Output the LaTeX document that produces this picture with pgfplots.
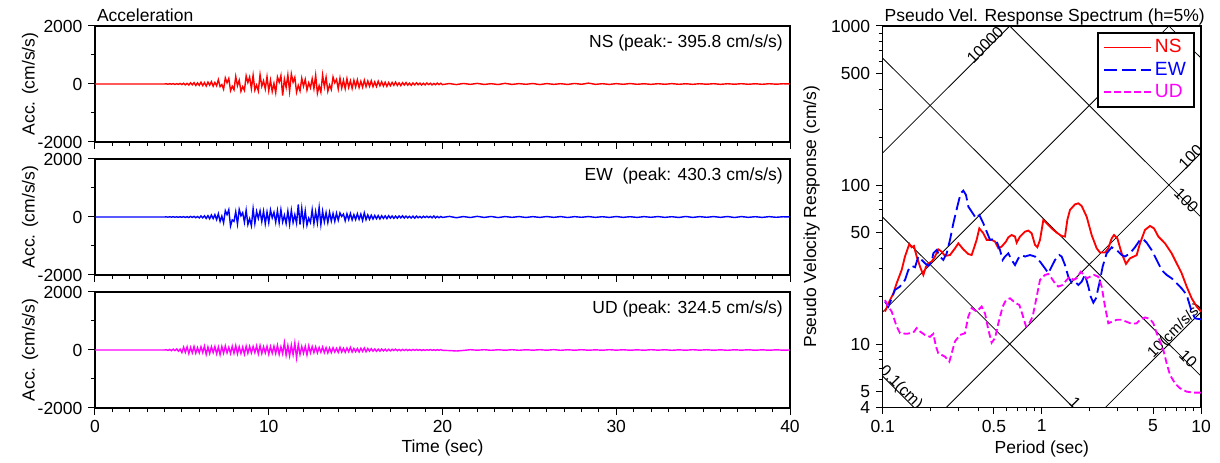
\documentclass[border=0pt]{standalone}
\usepackage{fontspec}
\setmainfont{Liberation Sans}
\usepackage{pgfplots}
\pgfplotsset{compat=1.18}
\usepackage{pgfplotstable}
\definecolor{UDmag}{RGB}{255,0,255}
\definecolor{NSred}{RGB}{255,0,0}

\pgfplotstableread{
t ns ew ud
0.0 0 0 0
4.0 0 0 0
4.1 5 3 10
4.2 -8 -4 -15
4.3 10 5 20
4.4 -6 -3 -25
4.5 12 6 30
4.6 -15 -5 -20
4.7 10 4 35
4.8 -12 -7 -40
4.9 18 8 30
5.0 -20 -10 -90
5.1 25 12 100
5.2 -30 -15 -80
5.3 22 10 110
5.4 -35 -18 -120
5.5 40 20 90
5.6 -28 -15 -100
5.7 45 22 120
5.8 -50 -25 -110
5.9 38 18 80
6.0 -45 -30 -100
6.1 60 35 110
6.2 -55 -28 -90
6.3 48 40 130
6.4 -70 -50 -150
6.5 65 45 100
6.6 -40 -60 -120
6.7 80 70 110
6.8 -75 -55 -90
6.9 55 80 120
7.0 -60 -90 -130
7.1 150 110 100
7.2 -90 -150 -160
7.3 -20 30 120
7.4 -180 -200 -110
7.5 210 220 140
7.6 40 80 -100
7.7 190 250 90
7.8 -230 -310 -120
7.9 -80 -100 130
8.0 -200 -150 -110
8.1 260 180 150
8.2 -60 -240 -130
8.3 130 260 110
8.4 -250 40 -120
8.5 -90 150 100
8.6 -220 -180 -140
8.7 280 230 130
8.8 50 -260 -110
8.9 240 -60 120
9.0 -160 -300 -100
9.1 300 280 120
9.2 -210 -220 -90
9.3 -40 190 140
9.4 -240 -50 -130
9.5 320 210 150
9.6 -80 -160 -120
9.7 110 200 110
9.8 -170 -230 -100
9.9 250 170 130
10.0 -230 -190 -140
10.1 130 240 120
10.2 -260 -30 -110
10.3 20 160 130
10.4 -300 -180 -120
10.5 240 220 160
10.6 60 -200 -150
10.7 290 250 110
10.8 -396 -170 -130
10.9 170 60 250
11.0 -120 -220 -180
11.1 310 200 150
11.2 -250 -250 -200
11.3 350 230 170
11.4 60 -190 -160
11.5 230 80 240
11.6 -280 -210 -260
11.7 -50 430 190
11.8 -240 -260 -150
11.9 200 300 120
12.0 -80 -240 -110
12.1 160 210 130
12.2 -210 -280 -170
12.3 40 -40 140
12.4 -130 -190 -100
12.5 180 250 120
12.6 -160 -230 -90
12.7 300 180 110
12.8 -320 -200 -100
12.9 -60 330 90
13.0 -280 -260 -80
13.1 310 200 100
13.2 -100 -170 -90
13.3 230 150 80
13.4 -250 -190 -100
13.5 -30 160 70
13.6 -190 -140 -90
13.7 240 120 80
13.8 40 -150 -70
13.9 160 130 60
14.0 -170 -110 -80
14.1 200 140 90
14.2 -140 20 -70
14.3 130 100 60
14.4 -160 -130 -80
14.5 180 110 70
14.6 -120 -90 -60
14.7 110 120 90
14.8 -150 -100 -70
14.9 130 80 50
15.0 -100 -90 -60
15.1 140 110 50
15.2 -120 -80 -70
15.3 90 100 60
15.4 -110 -120 -50
15.5 130 140 70
15.6 -90 -90 -60
15.7 100 70 50
15.8 -80 -80 -40
15.9 110 60 45
16.0 -90 -70 -40
16.1 70 55 35
16.2 -85 -60 -45
16.3 95 50 30
16.4 -60 -65 -40
16.5 75 45 35
16.6 -70 -50 -30
16.7 60 40 30
16.8 -80 -55 -35
16.9 50 45 25
17.0 -60 -40 -30
17.1 55 35 25
17.2 -45 -45 -20
17.3 65 30 30
17.4 -50 -40 -25
17.5 40 35 20
17.6 -55 -30 -25
17.7 45 40 20
17.8 -35 -35 -18
17.9 50 30 22
18.0 -40 -30 -20
18.1 30 25 15
18.2 -45 -35 -18
18.3 35 28 20
18.4 -30 -40 -15
18.5 40 30 18
18.6 -25 -25 -12
18.7 30 20 15
18.8 -35 -30 -18
18.9 25 25 12
19.0 -30 -20 -15
19.1 35 25 12
19.2 -20 -18 -10
19.3 25 22 15
19.4 -30 -28 -12
19.5 20 35 10
19.6 -25 -30 -14
19.7 30 20 12
19.8 -20 -25 -10
19.9 25 18 12
20.0 -20 -15 -10
20.4 15 20 -20
20.8 -20 -25 -35
21.2 18 15 -15
21.6 -12 -18 10
22.0 20 22 -8
22.4 -15 -15 10
22.8 10 18 -10
23.2 -18 -20 8
23.6 22 15 -8
24.0 -14 -12 10
24.4 12 14 -10
24.8 -10 -16 8
25.2 16 12 -6
25.6 -20 -14 10
26.0 14 16 -8
26.4 -12 -12 12
26.8 10 14 -10
27.2 -15 -18 8
27.6 18 12 -8
28.0 -10 -10 10
28.4 30 14 -8
28.8 -12 -12 6
29.2 10 10 -8
29.6 -14 -14 10
30.0 12 16 -6
30.4 -10 -12 8
30.8 15 10 -8
31.2 -10 -14 6
31.6 8 12 -8
32.0 -12 -10 10
32.4 10 14 -6
32.8 -9 -12 8
33.2 12 10 -10
33.6 -10 -16 6
34.0 8 18 -8
34.4 -11 -14 10
34.8 9 12 -6
35.2 -8 -10 8
35.6 10 14 -8
36.0 -12 -12 6
36.4 9 16 -10
36.8 -8 -18 8
37.2 10 14 -6
37.6 -9 -12 8
38.0 8 10 -8
38.4 -10 -14 6
38.8 9 12 -8
39.2 -7 -10 6
39.6 8 8 -6
40.0 0 0 0
}\acctable

\pgfplotsset{
  /pgf/number format/assume math mode=true,
  every axis title/.style={at={(axis description cs:0,1)}, anchor=base west, inner sep=1pt, yshift=2.5pt},
  accstyle/.style={
    scale only axis, width=417pt, height=69.6pt, anchor=south west,
    xmin=0, xmax=40, ymin=-2000, ymax=2000,
    xtick={0,10,20,30,40}, minor x tick num=9,
    ytick={-2000,0,2000}, yticklabels={-2000,0,2000}, minor ytick={-1000,1000},
    scaled y ticks=false,
    tick align=outside, tick pos=left,
    major tick length=4pt, minor tick length=2.5pt,
    every tick/.style={black, line width=0.6pt},
    axis line style={line width=0.8pt},
    ylabel={Acc. (cm/s/s)},
    y label style={at={(axis description cs:-0.0935,0.5)}, anchor=center},
  },
}

\begin{document}
\begin{tikzpicture}[font=\fontsize{10.5}{12.6}\selectfont]
\useasboundingbox (0,0) rectangle (732pt,277.8pt);

\begin{axis}[accstyle, at={(57pt,192.6pt)}, xticklabels={},
  title={Acceleration}]
\addplot[NSred, line width=0.85pt] table[x=t, y=ns] {\acctable};
\node[anchor=north east, inner sep=0pt] at (axis description cs:0.99,0.925) {NS (peak:- 395.8 cm/s/s)};
\end{axis}

\begin{axis}[accstyle, at={(57pt,112.8pt)}, xticklabels={}]
\addplot[blue, line width=0.85pt] table[x=t, y=ew] {\acctable};
\node[anchor=north east, inner sep=0pt] at (axis description cs:0.99,0.925) {EW\ \ (peak: 430.3 cm/s/s)};
\end{axis}

\begin{axis}[accstyle, at={(57pt,33pt)},
  xlabel={Time (sec)},
  x label style={at={(axis description cs:0.5,-0.345)}, anchor=center}]
\addplot[UDmag, line width=0.85pt] table[x=t, y=ud] {\acctable};
\node[anchor=north east, inner sep=0pt] at (axis description cs:0.99,0.925) {UD (peak: 324.5 cm/s/s)};
\end{axis}

\begin{axis}[xmode=log, ymode=log, scale only axis, width=191pt, height=228.8pt,
  at={(529.6pt,33.4pt)}, anchor=south west,
  xmin=0.1, xmax=10, ymin=4, ymax=1000,
  xtick={0.1,0.5,1,5,10}, xticklabels={0.1,0.5,1,5,10},
  minor xtick={0.2,0.3,0.4,0.6,0.7,0.8,0.9,2,3,4,6,7,8,9},
  ytick={4,5,10,50,100,500,1000}, yticklabels={4,5,10,50,100,500,1000},
  minor ytick={6,7,8,9,20,30,40,60,70,80,90,200,300,400,600,700,800,900},
  tick align=outside, tick pos=left,
  major tick length=4pt, minor tick length=2.5pt,
  every tick/.style={black, line width=0.6pt},
  axis line style={line width=0.8pt},
  xlabel={Period (sec)},
  x label style={at={(axis description cs:0.5,-0.109)}, anchor=center},
  ylabel={Pseudo Velocity Response (cm/s)},
  y label style={at={(axis description cs:-0.223,0.5)}, anchor=center},
  title={Pseudo Vel. Response Spectrum (h=5\%)},
  legend style={at={(axis description cs:0.981,0.984)}, anchor=north east,
    draw=black, line width=0.9pt, fill=white},
  legend cell align=left,
]
% displacement lines (cm)
\addplot[black, line width=0.5pt, forget plot] coordinates {(0.1,6.2832) (10,0.062832)};
\addplot[black, line width=0.5pt, forget plot] coordinates {(0.1,62.832) (10,0.62832)};
\addplot[black, line width=0.5pt, forget plot] coordinates {(0.1,628.32) (10,6.2832)};
\addplot[black, line width=0.5pt, forget plot] coordinates {(0.1,6283.2) (10,62.832)};
\addplot[black, line width=0.5pt, forget plot] coordinates {(0.1,62832) (10,628.32)};
% acceleration lines (cm/s/s)
\addplot[black, line width=0.5pt, forget plot] coordinates {(0.1,0.15915) (10,15.915)};
\addplot[black, line width=0.5pt, forget plot] coordinates {(0.1,1.5915) (10,159.15)};
\addplot[black, line width=0.5pt, forget plot] coordinates {(0.1,15.915) (10,1591.5)};
\addplot[black, line width=0.5pt, forget plot] coordinates {(0.1,159.15) (10,15915)};

\node[rotate=45, font=\fontsize{9.5}{11}\selectfont] at (axis cs:0.44,760) {10000};
\node[rotate=45, font=\fontsize{9.5}{11}\selectfont] at (axis cs:8.6,150) {100};
\node[rotate=45, font=\fontsize{9}{11}\selectfont] at (axis cs:6.9,12.1) {10(cm/s/s)};
\node[rotate=-45, font=\fontsize{9.5}{11}\selectfont] at (axis cs:8.1,80) {100};
\node[rotate=-45, font=\fontsize{9.5}{11}\selectfont] at (axis cs:8.3,8.1) {10};
\node[rotate=-45, font=\fontsize{9.5}{11}\selectfont] at (axis cs:1.62,4.3) {1};
\node[rotate=-45, font=\fontsize{9.5}{11}\selectfont] at (axis cs:0.13,5.3) {0.1(cm)};

\addplot[NSred, line width=1.1pt, forget plot] coordinates {
(0.1034,16.0) (0.1112,18.9) (0.1167,20.8) (0.1224,24.1) (0.1316,29.2) (0.1381,35.5)
(0.1471,42.6) (0.1521,40.6) (0.1573,41.4) (0.1635,35.5) (0.1716,30.7) (0.1801,27.2)
(0.1872,30.7) (0.1936,32.2) (0.2032,33.0) (0.2132,35.5) (0.2237,39.4) (0.2348,38.1)
(0.2464,35.8) (0.2649,36.3) (0.2848,40.0) (0.2988,43.0) (0.3212,39.4) (0.3452,36.8)
(0.3624,36.3) (0.3895,45.2) (0.4048,53.4) (0.4290,49.7) (0.4503,45.2) (0.4839,45.2)
(0.5080,44.1) (0.5330,40.0) (0.5593,41.0) (0.5955,44.1) (0.6159,46.9) (0.6463,48.5)
(0.6782,47.4) (0.6948,43.4) (0.7291,47.4) (0.7840,50.9) (0.8228,51.7) (0.8634,49.7)
(0.9060,42.0) (0.9370,40.6) (0.9739,45.2) (1.022,60.3) (1.0725,57.4) (1.153,53.4)
(1.239,50.2) (1.332,47.8) (1.398,47.4) (1.446,60.3) (1.503,69.7) (1.616,75.6)
(1.696,76.7) (1.780,73.8) (1.913,63.2) (2.056,48.5) (2.211,40.0) (2.320,37.6)
(2.494,37.6) (2.617,40.0) (2.747,46.2) (2.841,48.5) (2.981,46.2) (3.173,37.2)
(3.380,31.9) (3.580,34.6) (3.848,35.8) (3.942,36.2) (4.138,43.0) (4.448,52.2)
(4.781,55.3) (5.066,53.4) (5.395,47.4) (5.940,43.0) (6.542,37.2) (7.033,32.2)
(7.557,27.9) (8.125,23.0) (8.738,19.4) (9.394,17.2) (10.0,16.0)
};

\addplot[blue, line width=1.1pt, dash pattern=on 8pt off 3pt, forget plot] coordinates {
(0.1034,18.5) (0.1086,17.2) (0.1195,21.9) (0.1285,23.0) (0.1381,25.3) (0.1450,29.2)
(0.1521,31.0) (0.1597,30.4) (0.1675,35.5) (0.1758,33.8) (0.1845,32.2) (0.1936,31.0)
(0.2032,33.0) (0.2081,37.2) (0.2184,39.0) (0.2292,35.5) (0.2406,33.8) (0.2525,37.2)
(0.2649,45.2) (0.2780,57.4) (0.2945,73.2) (0.3091,88.7) (0.3212,92.2) (0.3339,86.6)
(0.3452,73.2) (0.3624,68.0) (0.3858,61.8) (0.4048,64.8) (0.4290,57.4) (0.4503,50.9)
(0.4725,45.2) (0.4959,45.6) (0.5204,44.1) (0.5461,39.0) (0.5675,33.8) (0.5869,35.5)
(0.6159,37.2) (0.6463,33.8) (0.6782,31.4) (0.7117,34.6) (0.7469,36.3) (0.7840,35.5)
(0.8427,36.3) (0.9060,35.5) (0.9739,33.0) (1.047,29.9) (1.099,27.9) (1.153,30.7)
(1.210,33.8) (1.288,36.3) (1.332,35.5) (1.398,31.4) (1.467,26.5) (1.539,24.3)
(1.616,24.7) (1.696,23.5) (1.780,24.7) (1.867,27.2) (1.960,23.0) (2.027,19.9)
(2.107,18.2) (2.189,19.4) (2.298,24.1) (2.411,30.7) (2.555,37.2) (2.747,40.6)
(2.953,39.0) (3.173,36.3) (3.331,35.5) (3.580,37.2) (3.848,40.6) (4.138,45.2)
(4.341,45.6) (4.555,43.4) (4.898,39.0) (5.267,33.8) (5.661,29.2) (6.085,27.2)
(6.542,25.9) (7.033,24.1) (7.557,22.4) (8.125,20.4) (8.738,16.0) (9.170,14.5) (10.0,14.3)
};

\addplot[UDmag, line width=1.1pt, dash pattern=on 4pt off 2pt, forget plot] coordinates {
(0.1034,18.9) (0.1086,17.2) (0.1139,16.0) (0.1224,12.9) (0.1285,11.7) (0.1415,11.6)
(0.1558,11.8) (0.1635,12.6) (0.1716,12.0) (0.1845,11.4) (0.1984,11.1) (0.2081,11.6)
(0.2163,9.63) (0.2237,8.74) (0.2348,8.54) (0.2464,8.33) (0.2624,7.75) (0.2713,8.74)
(0.2848,10.4) (0.3061,11.4) (0.3289,11.7) (0.3452,14.9) (0.3624,16.8) (0.3895,16.0)
(0.4188,17.2) (0.4395,15.6) (0.4612,12.3) (0.4839,10.2) (0.5080,10.9) (0.5330,13.5)
(0.5675,17.2) (0.5955,18.9) (0.6310,19.4) (0.6782,18.2) (0.7221,17.6) (0.7578,15.2)
(0.7952,12.9) (0.8345,13.5) (0.8757,14.9) (0.9191,18.9) (0.9739,25.3) (1.047,27.2)
(1.099,27.6) (1.153,25.9) (1.210,24.1) (1.269,23.0) (1.351,23.5) (1.432,25.3)
(1.503,26.5) (1.577,25.3) (1.655,25.9) (1.754,28.5) (1.841,27.2) (1.913,25.9)
(2.007,26.5) (2.127,27.2) (2.265,26.5) (2.376,23.0) (2.494,17.2) (2.617,13.5)
(2.747,13.8) (2.953,14.2) (3.173,14.2) (3.412,13.8) (3.667,13.4) (3.942,13.5)
(4.138,14.2) (4.448,14.7) (4.781,14.4) (5.017,13.5) (5.267,11.7) (5.525,10.4)
(5.799,9.18) (6.085,7.56) (6.386,6.39) (6.864,5.66) (7.381,5.27) (8.125,5.02)
(8.950,4.95) (10.0,4.95)
};

\addlegendimage{legend image code/.code={\draw[draw=NSred, line width=1.1pt] (0pt,0pt) -- (28pt,0pt); \draw[draw=NSred, line width=1.1pt] (0pt,0pt) -- (28pt,0pt);}}
\addlegendentry{\fontsize{11.5}{13}\selectfont\color{NSred}NS}
\addlegendimage{legend image code/.code={\draw[draw=blue, line width=1.1pt, dash pattern=on 8pt off 3pt] (0pt,0pt) -- (28pt,0pt);}}
\addlegendentry{\fontsize{11.5}{13}\selectfont\color{blue}EW}
\addlegendimage{legend image code/.code={\draw[draw=UDmag, line width=1.1pt, dash pattern=on 4pt off 2pt] (0pt,0pt) -- (28pt,0pt);}}
\addlegendentry{\fontsize{11.5}{13}\selectfont\color{UDmag}UD}
\end{axis}
\end{tikzpicture}
\end{document}
